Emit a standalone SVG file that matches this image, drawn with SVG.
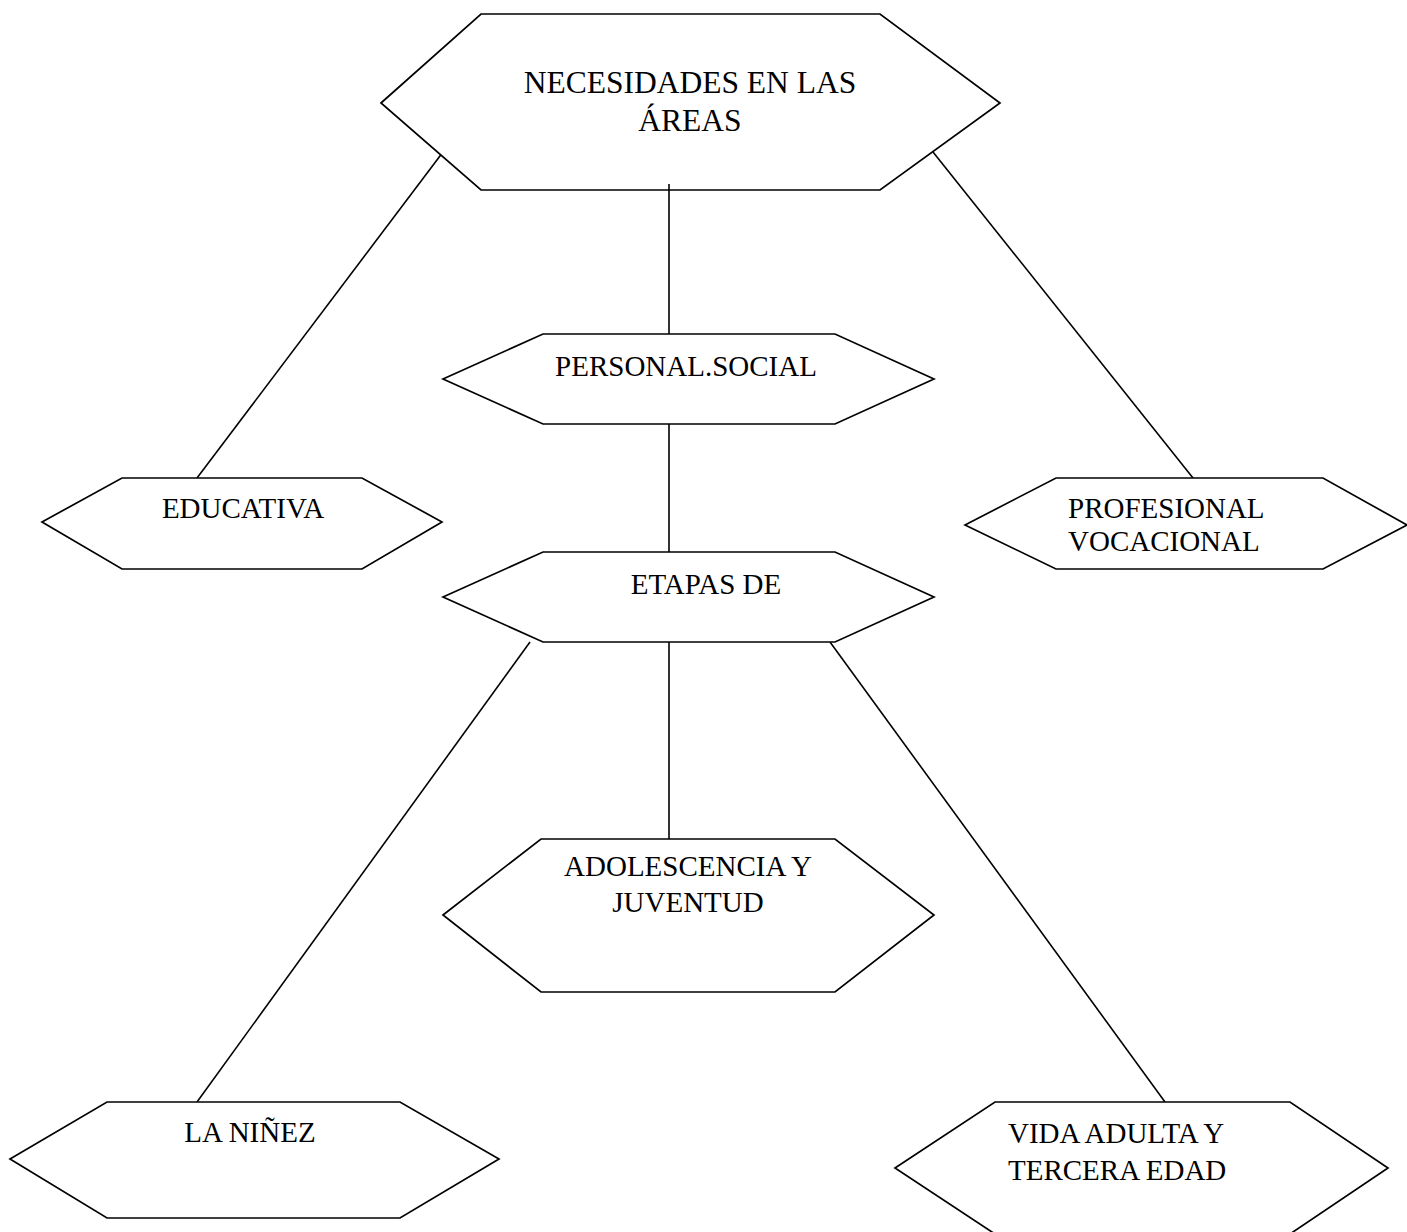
<svg xmlns="http://www.w3.org/2000/svg" width="1407" height="1232" viewBox="0 0 1407 1232">
<style>
.hex{fill:#fff;stroke:#000;stroke-width:1.7}
.ln{stroke:#000;stroke-width:1.6;fill:none}
text{font-family:"Liberation Serif","Times New Roman",serif;font-size:29px;fill:#000}
.c{text-anchor:middle}
.big{font-size:31.5px}
</style>
<rect width="1407" height="1232" fill="#fff"/>
<g id="connectors">
<line class="ln" x1="443" y1="152" x2="197" y2="478"/>
<line class="ln" x1="933" y1="152" x2="1193" y2="478"/>
<line class="ln" x1="669" y1="184" x2="669" y2="334"/>
<line class="ln" x1="669" y1="424" x2="669" y2="552"/>
<line class="ln" x1="530" y1="642" x2="197" y2="1102"/>
<line class="ln" x1="669" y1="642" x2="669" y2="839"/>
<line class="ln" x1="830" y1="642" x2="1165" y2="1102"/>
</g>
<g id="necesidades">
<polygon class="hex" points="381,103 481,14 880,14 1000,103 880,190 481,190"/>
<text class="c big" x="690" y="93">NECESIDADES EN LAS</text>
<text class="c big" x="690" y="131">ÁREAS</text>
</g>
<line class="ln" x1="669" y1="184" x2="669" y2="191"/>
<g id="personal">
<polygon class="hex" points="443,379 543,334 835,334 934,379 835,424 543,424"/>
<text class="c" x="686" y="376">PERSONAL.SOCIAL</text>
</g>
<g id="educativa">
<polygon class="hex" points="42,522 122,478 362,478 442,522 362,569 122,569"/>
<text class="c" x="243" y="518">EDUCATIVA</text>
</g>
<g id="profesional">
<polygon class="hex" points="965,525 1056,478 1323,478 1407,525 1323,569 1056,569"/>
<text x="1068" y="518">PROFESIONAL</text>
<text x="1068" y="551">VOCACIONAL</text>
</g>
<g id="etapas">
<polygon class="hex" points="443,597 543,552 835,552 934,597 835,642 543,642"/>
<text class="c" x="706" y="594">ETAPAS DE</text>
</g>
<g id="adolescencia">
<polygon class="hex" points="443,915 541,839 835,839 934,915 835,992 541,992"/>
<text class="c" x="688" y="876">ADOLESCENCIA Y</text>
<text class="c" x="688" y="912">JUVENTUD</text>
</g>
<g id="ninez">
<polygon class="hex" points="10,1159 107,1102 400,1102 499,1159 400,1218 107,1218"/>
<text class="c" x="250" y="1142">LA NIÑEZ</text>
</g>
<g id="vida">
<polygon class="hex" points="895,1168 995,1102 1290,1102 1388,1168 1290,1234 995,1234"/>
<text x="1008" y="1143">VIDA ADULTA Y</text>
<text x="1008" y="1180">TERCERA EDAD</text>
</g>
</svg>
